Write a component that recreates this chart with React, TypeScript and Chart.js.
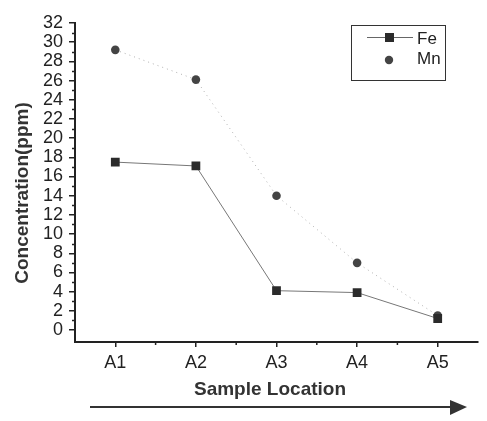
import React, { useEffect, useRef } from "react";
import { Chart, registerables } from "chart.js";

Chart.register(...registerables);

const categories = ["A1", "A2", "A3", "A4", "A5"];
const feValues = [17.5, 17.1, 4.1, 3.9, 1.2];
const mnValues = [29.2, 26.1, 14.0, 7.0, 1.5];
const yTickValues = [0, 2, 4, 6, 8, 10, 12, 14, 16, 18, 20, 22, 24, 26, 28, 30, 32];
const seriesNames = ["Fe", "Mn"];
const xTitle = "Sample Location";
const yTitle = "Concentration(ppm)";

const FONT = "'Liberation Sans', Arial, sans-serif";

const decorPlugin = {
  id: "decor",
  afterDraw(chart: any) {
    const ctx = chart.ctx;
    const x = chart.scales.x;
    const y = chart.scales.y;
    const area = chart.chartArea;
    ctx.save();
    ctx.strokeStyle = "#222";
    ctx.lineWidth = 1.5;
    // minor y ticks
    for (let v = 1; v < 32; v += 2) {
      const py = Math.round(y.getPixelForValue(v)) + 0.5;
      ctx.beginPath();
      ctx.moveTo(area.left - 3, py);
      ctx.lineTo(area.left, py);
      ctx.stroke();
    }
    // minor x ticks
    for (let i = 0; i < categories.length - 1; i++) {
      const px = (x.getPixelForValue(i) + x.getPixelForValue(i + 1)) / 2;
      ctx.beginPath();
      ctx.moveTo(px, area.bottom);
      ctx.lineTo(px, area.bottom + 3);
      ctx.stroke();
    }
    // axis titles
    ctx.fillStyle = "#333";
    ctx.font = `bold 19px ${FONT}`;
    ctx.textAlign = "center";
    ctx.textBaseline = "middle";
    ctx.fillText(xTitle, 270, 390);
    ctx.save();
    ctx.translate(23, 193);
    ctx.rotate(-Math.PI / 2);
    ctx.fillText(yTitle, 0, 0);
    ctx.restore();
    // legend box
    const lx = 351, ly = 25, lw = 94, lh = 55;
    ctx.lineWidth = 1;
    ctx.strokeStyle = "#333";
    ctx.strokeRect(lx + 0.5, ly + 0.5, lw, lh);
    // Fe entry
    ctx.strokeStyle = "#666";
    ctx.beginPath();
    ctx.moveTo(367, 37.5);
    ctx.lineTo(413, 37.5);
    ctx.stroke();
    ctx.fillStyle = "#2b2b2b";
    ctx.fillRect(385, 33, 9, 9);
    // Mn entry
    ctx.beginPath();
    ctx.arc(389, 60, 4.2, 0, Math.PI * 2);
    ctx.fillStyle = "#444";
    ctx.fill();
    ctx.fillStyle = "#222";
    ctx.font = `17px ${FONT}`;
    ctx.textBaseline = "middle";
    ctx.textAlign = "left";
    ctx.fillText(seriesNames[0], 417, 39);
    ctx.fillText(seriesNames[1], 417, 59);
    // arrow
    ctx.strokeStyle = "#333";
    ctx.lineWidth = 2;
    ctx.beginPath();
    ctx.moveTo(90, 407);
    ctx.lineTo(455, 407);
    ctx.stroke();
    ctx.fillStyle = "#333";
    ctx.beginPath();
    ctx.moveTo(467, 407);
    ctx.lineTo(450, 400);
    ctx.lineTo(450, 415);
    ctx.closePath();
    ctx.fill();
    ctx.restore();
  },
};

export default function App() {
  const ref = useRef<HTMLCanvasElement>(null);
  useEffect(() => {
    const chart = new Chart(ref.current!, {
      type: "line",
      data: {
        labels: categories,
        datasets: [
          {
            label: seriesNames[0],
            data: feValues,
            borderColor: "#777",
            borderWidth: 1,
            pointStyle: "rect",
            pointRadius: 6.2,
            pointBackgroundColor: "#2b2b2b",
            pointBorderColor: "#2b2b2b",
            pointBorderWidth: 0,
            tension: 0,
          },
          {
            label: seriesNames[1],
            data: mnValues,
            borderColor: "#b0b0b0",
            borderWidth: 1,
            borderDash: [1, 4],
            pointStyle: "circle",
            pointRadius: 4.3,
            pointBackgroundColor: "#444",
            pointBorderColor: "#444",
            pointBorderWidth: 0,
            tension: 0,
          },
        ],
      },
      options: {
        animation: false,
        responsive: false,
        maintainAspectRatio: false,
        layout: { padding: { left: 0, top: 23, right: 9, bottom: 0 } },
        plugins: { legend: { display: false }, tooltip: { enabled: false } },
        scales: {
          x: {
            type: "category",
            offset: true,
            grid: { drawOnChartArea: false, drawTicks: true, tickLength: 5, color: "#222", lineWidth: 1.5, offset: false },
            border: { color: "#222", width: 2 },
            ticks: { color: "#222", font: { family: FONT, size: 18 }, padding: 5 },
            afterFit(s: any) {
              s.height = 79;
            },
          },
          y: {
            type: "linear",
            min: -1.25,
            max: 32,
            afterBuildTicks(s: any) {
              s.ticks = yTickValues.map((v) => ({ value: v }));
            },
            grid: { drawOnChartArea: false, drawTicks: true, tickLength: 6, color: "#222", lineWidth: 1.5 },
            border: { color: "#222", width: 2 },
            ticks: { color: "#222", font: { family: FONT, size: 18 }, padding: 6, autoSkip: false },
            afterFit(s: any) {
              s.width = 75;
            },
          },
        },
      },
      plugins: [decorPlugin],
    } as any);
    return () => chart.destroy();
  }, []);
  return (
    <div style={{ position: "absolute", left: 0, top: 0, width: 487, height: 421, background: "#fff" }}>
      <canvas ref={ref} width={487} height={421} />
    </div>
  );
}
